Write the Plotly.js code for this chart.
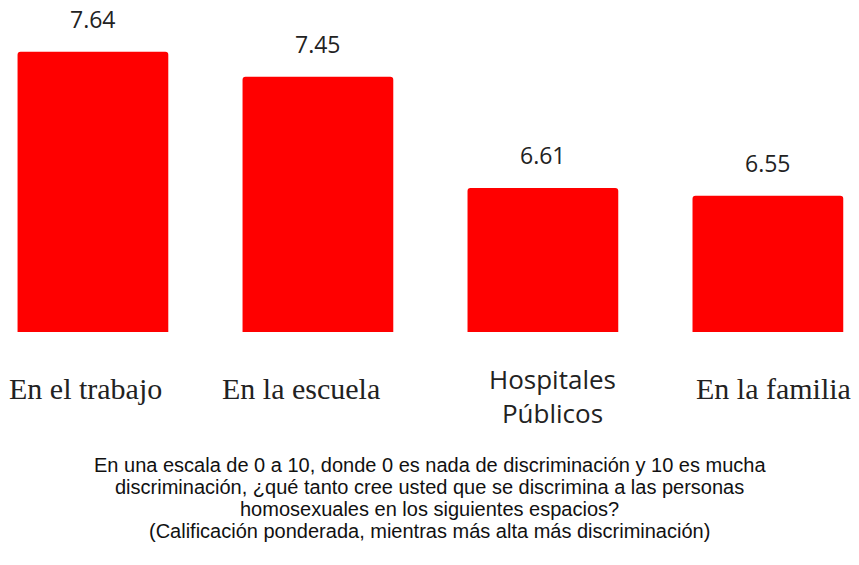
<!DOCTYPE html>
<html>
<head>
<meta charset="utf-8">
<script src="https://cdn.plot.ly/plotly-3.0.1.min.js"></script>
<style>html,body{margin:0;padding:0;background:#fff;}#chart{width:859px;height:565px;}</style>
</head>
<body>
<div id="chart"></div>
<script>
const categories = ["En el trabajo", "En la escuela", "Hospitales<br>Públicos", "En la familia"];
const values = [7.64, 7.45, 6.61, 6.55];
const valueLabels = ["7.64", "7.45", "6.61", "6.55"];
const captionLines = [
  "En una escala de 0 a 10, donde 0 es nada de discriminación y 10 es mucha",
  "discriminación, ¿qué tanto cree usted que se discrimina a las personas",
  "homosexuales en los siguientes espacios?",
  "(Calificación ponderada, mientras más alta más discriminación)"
];

const idx = categories.map((_, i) => i);
const labelFonts = ["Liberation Serif", "Liberation Serif", "Open Sans", "Liberation Serif"];
const labelSizes = [30, 30, 26, 30];
const labelXShift = [-7, -17, 10, 6];
const labelYShift = [-56, -56, -64, -56];
const captionYShift = [-133, -155, -177, -199];

const annotations = [];
values.forEach((v, i) => {
  annotations.push({
    x: i, y: v, xref: "x", yref: "y", text: valueLabels[i], showarrow: false,
    yanchor: "middle", yshift: 33,
    font: {family: "Open Sans, sans-serif", size: 23, color: "#222"}
  });
  annotations.push({
    x: i, y: 0, xref: "x", yref: "paper", text: categories[i], showarrow: false,
    yanchor: "middle", xshift: labelXShift[i], yshift: labelYShift[i],
    font: {family: labelFonts[i], size: labelSizes[i], color: "#222"}
  });
});
captionLines.forEach((t, j) => {
  annotations.push({
    x: 0.5, y: 0, xref: "paper", yref: "paper", text: t, showarrow: false,
    yanchor: "middle", xanchor: "center", yshift: captionYShift[j],
    font: {family: "Liberation Sans, Arial, sans-serif", size: 20, color: "#111"}
  });
});

const trace = {
  type: "bar", x: idx, y: values,
  marker: {color: "#ff0000", cornerradius: 3},
  hoverinfo: "none"
};

const layout = {
  width: 859, height: 565,
  margin: {l: 0, r: 0, t: 20, b: 233},
  paper_bgcolor: "#fff", plot_bgcolor: "#fff",
  bargap: 0.33,
  showlegend: false,
  xaxis: {range: [-0.413, 3.405], showticklabels: false, showgrid: false, zeroline: false, showline: false, ticks: ""},
  yaxis: {range: [5.52, 7.88], showticklabels: false, showgrid: false, zeroline: false, showline: false, ticks: ""},
  annotations: annotations
};

Plotly.newPlot("chart", [trace], layout, {displayModeBar: false, staticPlot: true});
</script>
</body>
</html>
